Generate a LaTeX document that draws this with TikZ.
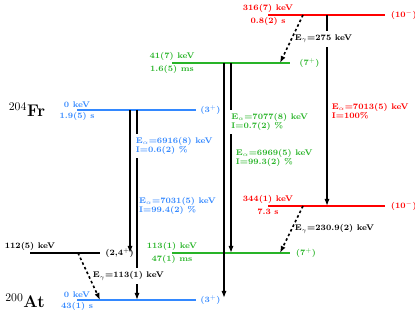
\documentclass[tikz,border=0pt]{standalone}
\usetikzlibrary{arrows.meta}
\definecolor{frblue}{RGB}{51,136,255}
\definecolor{isogreen}{RGB}{40,180,40}
\definecolor{isored}{RGB}{255,0,0}
\begin{document}
\begin{tikzpicture}[x=0.03cm, y=-0.03cm,
          lvl/.style={line width=1.6pt},
          alphadecay/.style={line width=1.2pt, -{Latex[length=6pt,width=4.4pt]}},
          gammadecay/.style={line width=1.4pt, dash pattern=on 2.2pt off 2.2pt,
            -{Latex[length=6pt,width=4.4pt]}},
          energy/.style={font=\scriptsize\bfseries, inner sep=2pt},
          spin/.style={font=\scriptsize\bfseries, inner sep=1pt, anchor=west},
          trans/.style={font=\scriptsize\bfseries, fill=white, inner xsep=1pt,
            inner ysep=3pt, anchor=west, align=left},
          nucl/.style={font=\Large\bfseries},
        ]
          \useasboundingbox (0,0) rectangle (415,316);
          \coordinate (fr0L)   at ( 77, 110);
          \coordinate (fr0R)   at (196, 110);
          \coordinate (fr41L)  at (172,  63);
          \coordinate (fr41R)  at (290,  63);
          \coordinate (fr316L) at (268,  15);
          \coordinate (fr316R) at (385,  15);
          \coordinate (at0L)   at ( 77, 300);
          \coordinate (at0R)   at (196, 300);
          \coordinate (at112L) at ( 30, 253);
          \coordinate (at112R) at (100, 253);
          \coordinate (at113L) at (172, 253);
          \coordinate (at113R) at (290, 253);
          \coordinate (at344L) at (268, 206);
          \coordinate (at344R) at (385, 206);
          \draw[lvl, frblue]   (fr0L)   -- (fr0R);
          \draw[lvl, isogreen] (fr41L)  -- (fr41R);
          \draw[lvl, isored]   (fr316L) -- (fr316R);
          \draw[lvl, frblue]   (at0L)   -- (at0R);
          \draw[lvl]           (at112L) -- (at112R);
          \draw[lvl, isogreen] (at113L) -- (at113R);
          \draw[lvl, isored]   (at344L) -- (at344R);
          \coordinate (a1s) at (130, 110);
          \coordinate (a1e) at (130, 253);
          \coordinate (a2s) at (137, 110);
          \coordinate (a2e) at (137, 300);
          \coordinate (a3s) at (224,  63);
          \coordinate (a3e) at (224, 298);
          \coordinate (a4s) at (231,  63);
          \coordinate (a4e) at (231, 253);
          \coordinate (a5s) at (327,  15);
          \coordinate (a5e) at (327, 206);
          \draw[alphadecay] (a1s) -- (a1e);
          \draw[alphadecay] (a2s) -- (a2e);
          \draw[alphadecay] (a3s) -- (a3e);
          \draw[alphadecay] (a4s) -- (a4e);
          \draw[alphadecay] (a5s) -- (a5e);
          \node[nucl] (fr) at (27, 110) {$^{204}$Fr};
          \node[nucl] (at) at (25, 301) {$^{200}$At};
          \node[energy, frblue, above]   (fr0E)   at (fr0L)   {0 keV};
          \node[energy, frblue, below]   (fr0T)   at (fr0L)   {1.9(5) s};
          \node[energy, isogreen, above] (fr41E)  at (fr41L)  {41(7) keV};
          \node[energy, isogreen, below] (fr41T)  at (fr41L)  {1.6(5) ms};
          \node[energy, isored, above]   (fr316E) at (fr316L) {316(7) keV};
          \node[energy, isored, below]   (fr316T) at (fr316L) {0.8(2) s};
          \node[energy, frblue, above]   (at0E)   at (at0L)   {0 keV};
          \node[energy, frblue, below]   (at0T)   at (at0L)   {43(1) s};
          \node[energy, above]           (at112E) at (at112L) {112(5) keV};
          \node[energy, isogreen, above] (at113E) at (at113L) {113(1) keV};
          \node[energy, isogreen, below] (at113T) at (at113L) {47(1) ms};
          \node[energy, isored, above]   (at344E) at (at344L) {344(1) keV};
          \node[energy, isored, below]   (at344T) at (at344L) {7.3 s};
          \node[spin, frblue]   (fr0J)   at (199,   110) {(3$^+$)};
          \node[spin, isogreen] (fr41J)  at (298,    63) {(7$^+$)};
          \node[spin, isored]   (fr316J) at (389.5,  15) {(10$^-$)};
          \node[spin, frblue]   (at0J)   at (199,   300) {(3$^+$)};
          \node[spin]           (at112J) at (104,   253) {(2,4$^+$)};
          \node[spin, isogreen] (at113J) at (294.5, 253) {(7$^+$)};
          \node[spin, isored]   (at344J) at (389.5, 206) {(10$^-$)};
          \node[trans, text=frblue]   (a1l) at (134.5, 146) {E$_\alpha$=6916(8) keV\\I=0.6(2) \%};
          \node[trans, text=frblue]   (a2l) at (137.8, 206) {E$_\alpha$=7031(5) keV\\I=99.4(2) \%};
          \node[trans, text=isogreen] (a3l) at (230,   122) {E$_\alpha$=7077(8) keV\\I=0.7(2) \%};
          \node[trans, text=isogreen] (a4l) at (234.5, 158) {E$_\alpha$=6969(5) keV\\I=99.3(2) \%};
          \node[trans, text=isored]   (a5l) at (330.5, 111) {E$_\alpha$=7013(5) keV\\I=100\%};
          \node[trans] (g1l) at (293.5,  39) {E$_\gamma$=275 keV};
          \node[trans] (g2l) at (293.5, 229) {E$_\gamma$=230.9(2) keV};
          \node[trans] (g3l) at ( 91.5, 276) {E$_\gamma$=113(1) keV};
          \coordinate (g1s) at (303,  15);
          \coordinate (g1e) at (280,  63);
          \coordinate (g2s) at (303, 206);
          \coordinate (g2e) at (280, 253);
          \coordinate (g3s) at ( 78, 253);
          \coordinate (g3e) at (100, 300);
          \draw[gammadecay] (g1s) -- (g1e);
          \draw[gammadecay] (g2s) -- (g2e);
          \draw[gammadecay] (g3s) -- (g3e);
        \end{tikzpicture}
\end{document}
